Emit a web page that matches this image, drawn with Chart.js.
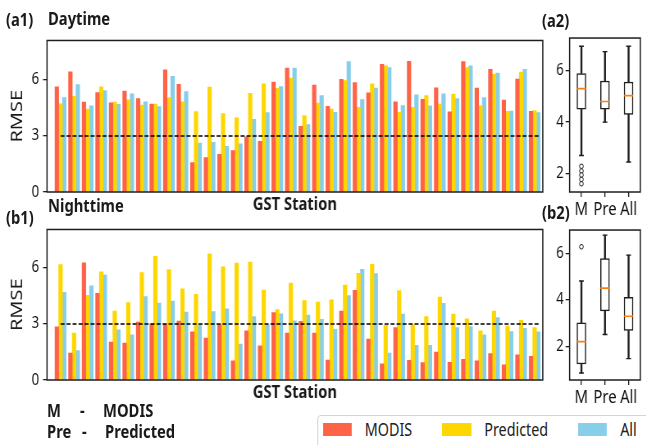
<!DOCTYPE html>
<html>
<head>
<meta charset="utf-8">
<script src="https://cdn.jsdelivr.net/npm/chart.js@4.4.0/dist/chart.umd.min.js"></script>
<style>
html, body { margin: 0; padding: 0; background: #fff; overflow: hidden; }
#fig { position: absolute; left: 0; top: 0; height: 445px; transform-origin: 0 0;
       font-family: "Noto Sans", sans-serif; color: #1a1a1a; }
#fig canvas { position: absolute; }
.lbl { position: absolute; white-space: nowrap; }
.legend { position: absolute; box-sizing: border-box; border: 1px solid #cfcfcf; border-radius: 4px;
          background: #fff; display: flex; align-items: flex-start; padding-top: 7px; }
.legend .item { display: flex; align-items: center; }
.legend .sw { height: 13px; }
.legend .txt { font-size: 17.5px; line-height: 13px; color: #222; }
</style>
</head>
<body>
<div id="fig"></div>
<script>
// RMSE per GST station (36 stations)
const modisDay = [5.62,6.43,4.81,5.32,4.77,5.39,4.99,4.70,6.53,5.76,1.57,1.84,2.01,2.22,2.95,2.71,5.88,6.63,3.51,5.71,4.58,6.02,5.85,5.30,6.83,4.82,6.99,4.96,5.57,4.28,6.97,5.56,6.56,4.91,6.03,4.31]
const predDay  = [4.72,5.11,4.43,5.62,4.81,4.93,4.65,4.70,5.05,4.82,4.30,5.61,4.19,3.97,5.28,5.78,5.54,6.09,4.09,4.76,4.43,5.95,4.53,5.78,6.75,4.26,4.53,5.16,4.70,5.23,6.65,4.60,6.29,4.31,6.41,4.35]
const allDay   = [5.05,5.74,4.60,5.42,4.69,5.25,4.82,4.57,6.19,5.37,2.61,2.66,2.44,2.57,3.89,4.24,5.64,6.63,3.60,5.16,4.26,6.97,4.94,5.56,6.65,4.62,5.20,4.60,5.25,5.00,6.75,5.05,6.36,4.33,6.56,4.24]

const modisNight = [2.85,1.44,6.27,4.63,2.03,1.98,3.10,3.00,3.00,3.15,2.58,2.24,2.97,1.02,2.63,1.83,3.61,2.51,3.14,2.51,1.07,3.69,4.80,2.19,0.86,2.80,1.05,0.93,1.49,0.95,1.10,1.03,1.41,0.81,1.34,1.27]
const predNight  = [6.17,2.51,4.53,5.78,3.68,4.14,5.75,6.61,5.90,4.88,4.58,6.75,6.05,6.25,6.31,4.81,3.76,5.19,4.25,4.17,4.29,5.07,5.71,6.19,2.92,4.78,2.97,3.39,4.44,3.53,3.27,2.63,3.69,2.88,3.19,2.80]
const allNight   = [4.69,1.58,5.03,5.61,2.68,2.41,4.46,4.12,4.22,3.63,2.95,3.66,3.80,1.92,3.39,2.97,3.54,3.17,3.47,3.24,2.71,4.51,5.92,5.69,1.44,3.53,1.86,1.86,4.10,2.80,2.86,2.41,3.34,2.59,2.76,2.58]

const seriesNames  = ['MODIS', 'Predicted', 'All']
const seriesColors = ['#ff6347', '#ffd700', '#87ceeb']
const boxLabels = ['M', 'Pre', 'All']

// box stats: [low whisker, q1, median, q3, high whisker]
const boxDay     = [[2.70,4.50,5.30,5.89,6.95], [4.00,4.50,4.80,5.60,6.74], [2.45,4.30,5.03,5.56,6.95]]
const fliersDay  = [[2.28,2.10,1.94,1.77,1.60], [], []]
const boxNight   = [[0.85,1.24,2.20,3.01,4.81], [2.51,3.52,4.50,5.77,6.78], [1.47,2.68,3.29,4.11,5.92]]
const fliersNight = [[6.28], [], []]

const barTicks = [0, 3, 6]
const boxTicks = [2, 4, 6]
const threshold = 3

// the original figure is squeezed sideways, so draw wider and squeeze the whole page
const S = 0.82
const fig = document.getElementById('fig')
fig.style.width = (646 / S) + 'px'
fig.style.transform = 'scaleX(' + S + ')'

Chart.defaults.font.family = '"Noto Sans", sans-serif'
Chart.defaults.color = '#1a1a1a'
Chart.defaults.animation = false
Chart.defaults.events = []
Chart.defaults.plugins.legend.display = false
Chart.defaults.plugins.tooltip.enabled = false

const INK = '#1e1e1e'

const frame = {   // full box around the plot like matplotlib spines
    id: 'frame',
    afterDatasetsDraw(chart) {
        const {ctx, chartArea: a} = chart
        ctx.save()
        ctx.strokeStyle = INK
        ctx.lineWidth = 1.5
        ctx.strokeRect(a.left, a.top, a.right - a.left, a.bottom - a.top)
        ctx.restore()
    }
}

function makeCanvas(x, y, w, h) {
    const c = document.createElement('canvas')
    c.width = Math.round(w / S)
    c.height = h
    c.style.left = (x / S) + 'px'
    c.style.top = y + 'px'
    fig.appendChild(c)
    return c
}

function text(str, x, cy, size, bold) {
    const d = document.createElement('div')
    d.className = 'lbl'
    d.textContent = str
    d.style.left = (x / S) + 'px'
    d.style.top = (cy - size / 2) + 'px'
    d.style.fontSize = size + 'px'
    d.style.lineHeight = size + 'px'
    d.style.fontWeight = bold ? 'bold' : 'normal'
    fig.appendChild(d)
}

function barChart(top, bottom, yMax, series) {
    const canvas = makeCanvas(0, top - 7, 548, bottom + 25 - (top - 7))
    const n = series[0].length
    const datasets = series.map((vals, k) => ({
        type: 'bar',
        label: seriesNames[k],
        backgroundColor: seriesColors[k],
        borderWidth: 0,
        barThickness: 3.7 / S,
        data: vals.map((v, i) => ({x: i + 1, y: v}))
    }))
    datasets.push({   // dashed reference line at RMSE = 3
        type: 'line',
        data: [{x: 1, y: threshold}, {x: n + 0.4, y: threshold}],
        borderColor: '#000',
        borderWidth: 1.5,
        borderDash: [4 / S, 2 / S],
        pointRadius: 0,
        order: -1
    })
    return new Chart(canvas, {
        type: 'bar',
        data: {datasets},
        options: {
            responsive: false,
            layout: {padding: {top: 7, right: 5 / S, bottom: 0, left: 0}},
            scales: {
                x: {
                    type: 'linear', min: 0, max: n + 0.6, offset: false,
                    ticks: {display: false}, grid: {display: false}, border: {display: false},
                    title: {display: true, text: 'GST Station', font: {size: 18, weight: 'bold'}, padding: {top: 0, bottom: 1.2}},
                    afterFit: s => { s.height = 25 }
                },
                y: {
                    min: 0, max: yMax,
                    afterBuildTicks: s => { s.ticks = barTicks.map(v => ({value: v})) },
                    ticks: {font: {size: 16}, padding: 4 / S, color: '#111'},
                    grid: {drawOnChartArea: false, tickLength: 4 / S, color: INK, lineWidth: 1.3},
                    border: {display: false},
                    title: {display: true, text: 'RMSE', font: {size: 20}, padding: {top: 9, bottom: 0}},
                    afterFit: s => { s.width = 47 / S }
                }
            }
        },
        plugins: [frame]
    })
}

function boxChart(top, bottom, yMin, yMax, stats, fliers) {
    const canvas = makeCanvas(545, top - 7, 101, bottom + 34 - (top - 7))
    const at = (i) => boxLabels[i]
    const flierPts = []
    fliers.forEach((f, i) => f.forEach(v => flierPts.push({x: at(i), y: v})))
    const capPts = []
    stats.forEach((s, i) => { capPts.push({x: at(i), y: s[0]}); capPts.push({x: at(i), y: s[4]}) })
    return new Chart(canvas, {
        type: 'bar',
        data: {
            labels: boxLabels,
            datasets: [
                {   // medians
                    type: 'scatter', data: stats.map((s, i) => ({x: at(i), y: s[2]})),
                    pointStyle: 'line', pointRadius: 4.5 / S, pointBorderWidth: 1.6,
                    pointBorderColor: '#ff7f0e', pointBackgroundColor: '#ff7f0e'
                },
                {   // whisker caps
                    type: 'scatter', data: capPts,
                    pointStyle: 'line', pointRadius: 2.4 / S, pointBorderWidth: 1.4,
                    pointBorderColor: INK, pointBackgroundColor: INK
                },
                {   // outliers
                    type: 'scatter', data: flierPts,
                    pointStyle: 'circle', pointRadius: 2.3, pointBorderWidth: 1,
                    pointBorderColor: INK, pointBackgroundColor: '#fff'
                },
                {   // boxes q1..q3
                    type: 'bar', grouped: false, data: stats.map(s => [s[1], s[3]]),
                    backgroundColor: '#fff', borderColor: INK, borderWidth: 1.5,
                    borderSkipped: false, barThickness: 9 / S
                },
                {   // lower whiskers
                    type: 'bar', grouped: false, data: stats.map(s => [s[0], s[1]]),
                    backgroundColor: INK, borderWidth: 0, barThickness: 1.4 / S
                },
                {   // upper whiskers
                    type: 'bar', grouped: false, data: stats.map(s => [s[3], s[4]]),
                    backgroundColor: INK, borderWidth: 0, barThickness: 1.4 / S
                }
            ]
        },
        options: {
            responsive: false,
            layout: {padding: {top: 7, right: 1.5 / S, bottom: 0, left: 0}},
            scales: {
                x: {
                    type: 'category', offset: true,
                    grid: {drawOnChartArea: false, offset: false, tickLength: 5, color: INK, lineWidth: 1.3},
                    ticks: {font: {size: 18}, padding: 2.5, color: '#111', maxRotation: 0, minRotation: 0, autoSkip: false},
                    border: {display: false},
                    afterFit: s => { s.height = 34 }
                },
                y: {
                    min: yMin, max: yMax,
                    afterBuildTicks: s => { s.ticks = boxTicks.map(v => ({value: v})) },
                    ticks: {font: {size: 16}, padding: 2 / S, color: '#111'},
                    grid: {drawOnChartArea: false, tickLength: 4 / S, color: INK, lineWidth: 1.3},
                    border: {display: false},
                    afterFit: s => { s.width = (569.3 - 545) / S }
                }
            }
        },
        plugins: [frame]
    })
}

barChart(33, 192, 8.1, [modisDay, predDay, allDay])
barChart(222, 380, 8.05, [modisNight, predNight, allNight])
boxChart(33, 192, 1.28, 7.27, boxDay, fliersDay)
boxChart(225, 380, 0.55, 7.0, boxNight, fliersNight)

// panel headings and notes
text('(a1)', 6, 19, 18, true)
text('Daytime', 48, 18, 18, true)
text('(b1)', 6, 217, 18, true)
text('Nighttime', 48, 205, 18, true)
text('(a2)', 542, 19.5, 18, true)
text('(b2)', 542, 211.5, 18, true)
text('M', 47, 410, 18, true)
text('-', 80, 410, 18, true)
text('MODIS', 103, 410, 18, true)
text('Pre', 47, 431, 18, true)
text('-', 82, 431, 18, true)
text('Predicted', 105, 431, 18, true)

// shared legend at the bottom right
const leg = document.createElement('div')
leg.className = 'legend'
leg.style.left = (317 / S) + 'px'
leg.style.top = '415px'
leg.style.width = (340 / S) + 'px'
leg.style.height = '40px'
leg.style.paddingLeft = (5 / S) + 'px'
seriesNames.forEach((name, k) => {
    const item = document.createElement('div')
    item.className = 'item'
    item.style.marginRight = (30 / S) + 'px'
    const sw = document.createElement('div')
    sw.className = 'sw'
    sw.style.width = (29 / S) + 'px'
    sw.style.marginRight = (13 / S) + 'px'
    sw.style.background = seriesColors[k]
    const t = document.createElement('span')
    t.className = 'txt'
    t.textContent = name
    item.appendChild(sw)
    item.appendChild(t)
    leg.appendChild(item)
})
fig.appendChild(leg)
</script>
</body>
</html>
